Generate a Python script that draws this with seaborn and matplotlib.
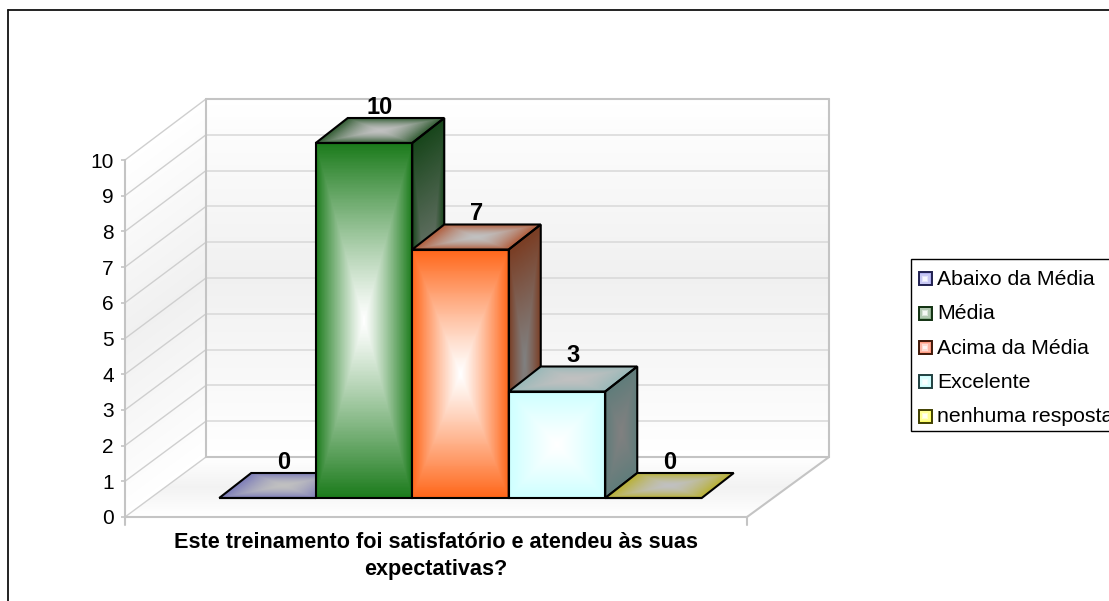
import numpy as np
import pandas as pd
import matplotlib
matplotlib.use("Agg")
import matplotlib.pyplot as plt
import seaborn as sns
from matplotlib.colors import to_rgb
from matplotlib.lines import Line2D
from matplotlib.patches import Patch, Polygon, Rectangle
from matplotlib.legend_handler import HandlerBase
from matplotlib.transforms import Affine2D

series = ["Abaixo da Média", "Média", "Acima da Média", "Excelente", "nenhuma resposta"]
values = [0, 10, 7, 3, 0]
colors = ["#8080c8", "#1a7a1a", "#ff6518", "#ccffff", "#c8c030"]
top_edges = ["#7a7ab8", "#2f5a30", "#b05a38", "#98b8b8", "#b8b030"]
side_edges = ["#505078", "#17451a", "#7a3c22", "#5f7c7a", "#80801f"]
legend_fills = ["#b0b0f0", "#8fb08f", "#ff9a80", "#ccffff", "#ffff66"]
legend_edges = ["#202050", "#103010", "#401808", "#204040", "#404000"]
title_lines = ["Este treinamento foi satisfatório e atendeu às suas", "expectativas?"]
ticks = list(range(0, 11))

sns.set_theme(style="white")
plt.rcParams["font.family"] = ["Liberation Sans", "DejaVu Sans"]

W, H = 1109, 601
fig = plt.figure(figsize=(W / 100, H / 100), dpi=100, facecolor="white")
ax = fig.add_axes([0, 0, 1, 1])

# layout constants
BAR_W, BAR_X0, ZERO_Y, UNIT = 96.5, 267.5, 498.0, 35.5
DX, DY = 32 / BAR_W, 25 / UNIT
tr = Affine2D().scale(1, -1).translate(0, H)


def mesh(origin, ex, ey, fn, center, edge, transform=None, zorder=1, n=260):
    u, v = np.meshgrid(np.linspace(0, 1, n + 1), np.linspace(0, 1, n + 1))
    X = origin[0] + ex[0] * u + ey[0] * v
    Y = origin[1] + ex[1] * u + ey[1] * v
    uc, vc = np.meshgrid((np.arange(n) + .5) / n, (np.arange(n) + .5) / n)
    t = fn(uc, vc)[..., None]
    C = np.array(to_rgb(center)) + (np.array(to_rgb(edge)) - np.array(to_rgb(center))) * t
    kw = {"transform": transform} if transform is not None else {}
    ax.pcolormesh(X, Y, C, shading="flat", zorder=zorder, **kw)


box = lambda u, v: np.maximum(np.abs(2 * u - 1), np.abs(2 * v - 1))
front = lambda u, v: box(u, v) ** 1.15
top = lambda u, v: box(u, v) ** 1.7
axial = lambda u, v: np.abs(2 * v - 1)

# bars
df = pd.DataFrame({"pos": np.arange(len(series)), "serie": series, "valor": values})
sns.barplot(data=df, x="pos", y="valor", hue="serie", hue_order=series, palette=colors,
            dodge=False, width=1, native_scale=True, legend=False, ax=ax, zorder=2)

# walls and floor
mesh((206, 457), (623, 0), (0, -358), axial, "#f0f0f0", "#ffffff", tr, .5)
mesh((125, 517), (81, -60), (0, -357), axial, "#f0f0f0", "#ffffff", tr, .5)
mesh((125, 517), (622, 0), (81, -60), axial, "#f2f2f2", "#ffffff", tr, .5)

for t in ticks:
    yb = 457 - 35.8 * t
    yf = 517 - 35.7 * t
    c, lw = ("#c4c4c4", 1.5) if t in (0, 10) else ("#d8d8d8", 1.1)
    ax.add_line(Line2D([125, 206], [yf, yb], color="#cfcfcf", lw=1.0, transform=tr, zorder=.8))
    ax.add_line(Line2D([206, 829], [yb, yb], color=c, lw=lw, transform=tr, zorder=.8))
for xs, ys in [([206, 206], [99, 457]), ([829, 829], [99, 457]),
               ([829, 747], [457, 517]), ([125, 747], [517, 517]), ([747, 747], [517, 525]),
               ([125, 125], [517, 525])]:
    ax.add_line(Line2D(xs, ys, color="#c4c4c4", lw=1.5, transform=tr, zorder=.9))

ax.set_xlim((0 - BAR_X0) / BAR_W, (W - BAR_X0) / BAR_W)
ax.set_ylim((ZERO_Y - H) / UNIT, ZERO_Y / UNIT)
ax.axis("off")

for i, bar in enumerate(ax.patches):
    x0, x1 = bar.get_x(), bar.get_x() + bar.get_width()
    v = bar.get_height()
    z = 2 + i
    if v > 0:
        mesh((x1, 0), (DX, DY), (0, v), front, "#808080", side_edges[i], zorder=z)
        ax.add_patch(Polygon([(x1, 0), (x1 + DX, DY), (x1 + DX, v + DY), (x1, v)], fill=False,
                             ec="black", lw=1.5, zorder=z + .5))
    mesh((x0, v), (x1 - x0, 0), (DX, DY), top, "#c0c0c0", top_edges[i], zorder=z)
    ax.add_patch(Polygon([(x0, v), (x1, v), (x1 + DX, v + DY), (x0 + DX, v + DY)], fill=False,
                         ec="black", lw=1.5, zorder=z + .5))
    if v > 0:
        mesh((x0, 0), (x1 - x0, 0), (0, v), front, "#ffffff", colors[i], zorder=z + .2)
    bar.set_facecolor("none")
    bar.set_edgecolor("black")
    bar.set_linewidth(1.5)
    bar.set_zorder(z + .6)
    ax.text((x0 + x1) / 2 + DX / 2, v + DY + 4 / UNIT, str(values[i]), ha="center", va="baseline",
            fontsize=17, fontweight="bold", color="black", zorder=20)

# value axis on the left wall
ay = fig.add_axes([125 / W, (H - 517) / H, 1e-4, (517 - 160) / H], facecolor="none")
ay.set_ylim(0, 10)
ay.set_yticks(ticks)
ay.set_xticks([])
for s in ("top", "right", "bottom"):
    ay.spines[s].set_visible(False)
ay.spines["left"].set_color("#c4c4c4")
ay.spines["left"].set_linewidth(1.5)
ay.tick_params(axis="y", left=True, length=3, width=1.2, color="#c4c4c4", pad=5, labelsize=15,
               labelcolor="black")

# category title
for line, y in zip(title_lines, (543, 569)):
    ax.text(436, H - y, line, transform=Affine2D(), ha="center", va="center", fontsize=15.6,
            fontweight="bold", color="black", zorder=20)

# outer frame (right and bottom sides fall outside the image)
fig.add_artist(Line2D([8, 8], [10, H + 5], color="#111111", lw=1.3, transform=tr))
fig.add_artist(Line2D([8, W + 5], [10, 10], color="#111111", lw=1.3, transform=tr))


class Swatch(HandlerBase):
    def create_artists(self, legend, orig, xd, yd, w, h, fs, trans):
        s = 13.0 / 100 * 72
        x, y = -xd + (w - s) / 2, -yd + (h - s) / 2 - 1
        out = []
        fill = orig.get_facecolor()[:3]
        for frac, mix in [(0, 0), (.14, .3), (.26, .65), (.36, .9)]:
            c = tuple(np.array(fill) * (1 - mix) + mix)
            out.append(Rectangle((x + s * frac, y + s * frac), s * (1 - 2 * frac), s * (1 - 2 * frac),
                                 fc=c, ec="none", transform=trans))
        out.append(Rectangle((x, y), s, s, fc="none", ec=orig.get_edgecolor(), lw=1.4, transform=trans))
        return out


ax.add_patch(Rectangle((911, 259), 230, 172, fc="white", ec="black", lw=1, transform=tr, zorder=29))
handles = [Patch(fc=c, ec=e, label=s) for c, e, s in zip(legend_fills, legend_edges, series)]
leg = ax.legend(handles=handles, loc="upper left", bbox_to_anchor=(909, 261), bbox_transform=tr,
                borderaxespad=0, fontsize=15.3, borderpad=.42, labelspacing=.72, handlelength=.68,
                handleheight=.68, handletextpad=.23, frameon=False,
                handler_map={Patch: Swatch()})
leg.set_zorder(30)
for t in leg.get_texts():
    t.set_color("black")

fig.savefig("out.png", dpi=100, facecolor="white")
